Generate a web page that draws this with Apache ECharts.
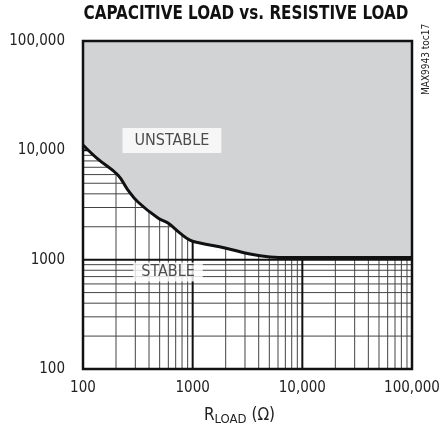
<!DOCTYPE html>
<html><head><meta charset="utf-8">
<script src="https://cdn.jsdelivr.net/npm/echarts@6/dist/echarts.min.js"></script>
<style>html,body{margin:0;padding:0;background:#fff}#c{width:442px;height:432px}</style>
</head><body><div id="c"></div>
<script>
const rLoad = [100, 137, 208, 257, 317, 483, 596, 766, 944, 1166, 1970, 3330, 5070, 7710, 10000, 100000];
const cLoad = [11200, 8300, 5940, 4330, 3370, 2400, 2160, 1750, 1510, 1420, 1280, 1125, 1060, 1045, 1045, 1045];
const xTickLabels = {100: '100', 1000: '1000', 10000: '10,000', 100000: '100,000'};
const yTickLabels = {100: '100', 1000: '1000', 10000: '10,000', 100000: '100,000'};
const minorMult = [2, 3, 4, 5, 6, 7, 8, 9];
const decades = [100, 1000, 10000];
const majorGrid = [1000, 10000];
const annotations = [
  {name: 'UNSTABLE', x: 647, y: 12300},
  {name: 'STABLE', x: 596, y: 771}
];

const FONT = '"Liberation Sans Narrow","DejaVu Sans Condensed","Liberation Sans",sans-serif';

const gridData = [];
decades.forEach(d => minorMult.forEach(m => {
  gridData.push([d * m, 100, 0, 0]);
  gridData.push([100, d * m, 1, 0]);
}));
majorGrid.forEach(v => {
  gridData.push([v, 100, 0, 1]);
  gridData.push([100, v, 1, 1]);
});

const chart = echarts.init(document.getElementById('c'), null, {renderer: 'canvas'});
chart.setOption({
  animation: false,
  backgroundColor: '#fff',
  grid: {left: 83, top: 41, width: 329, height: 328, containLabel: false, outerBoundsMode: 'none',
         show: true, borderColor: '#111', borderWidth: 2.5, z: 10, backgroundColor: 'transparent'},
  xAxis: {
    type: 'log', logBase: 10, min: 100, max: 100000,
    name: '{a|R}{s|LOAD}{a| (Ω)}', nameLocation: 'middle', nameGap: 37,
    nameTextStyle: {padding: [0, 16, 0, 0], rich: {
      a: {fontFamily: FONT, fontSize: 17, color: '#222', lineHeight: 20},
      s: {fontFamily: FONT, fontSize: 13, color: '#222', padding: [7, 0, 0, 0], lineHeight: 20}
    }},
    axisLine: {show: false}, axisTick: {show: false}, splitLine: {show: false},
    axisLabel: {margin: 12, fontFamily: FONT, fontSize: 15, color: '#222', formatter: v => xTickLabels[Math.round(v)] || ''}
  },
  yAxis: {
    type: 'log', logBase: 10, min: 100, max: 100000,
    name: '{a|C}{s|LOAD}{a| (pF)}', nameLocation: 'middle', nameGap: 51, nameRotate: 90,
    nameTextStyle: {rich: {
      a: {fontFamily: FONT, fontSize: 17, color: '#222', lineHeight: 20},
      s: {fontFamily: FONT, fontSize: 13, color: '#222', padding: [7, 0, 0, 0], lineHeight: 20}
    }},
    axisLine: {show: false}, axisTick: {show: false}, splitLine: {show: false},
    axisLabel: {margin: 18, fontFamily: FONT, fontSize: 15, color: '#222', formatter: v => yTickLabels[Math.round(v)] || ''}
  },
  graphic: [
    {type: 'text', x: 246, y: 4, scaleX: 0.845, style: {text: 'CAPACITIVE LOAD vs. RESISTIVE LOAD', font: 'bold 20px ' + FONT, fill: '#111', align: 'center'}},
    {type: 'text', x: 421, y: 95, rotation: Math.PI / 2, style: {text: 'MAX9943 toc17', font: '10px ' + FONT, fill: '#222'}}
  ],
  series: [
    {
      type: 'custom', z: 1, silent: true,
      data: gridData,
      renderItem: (params, api) => {
        const cs = params.coordSys;
        const vertical = api.value(2) === 0;
        const major = api.value(3) === 1;
        let shape;
        if (vertical) {
          const p = api.coord([api.value(0), 1000]);
          shape = {x1: p[0], y1: cs.y, x2: p[0], y2: cs.y + cs.height};
        } else {
          const p = api.coord([1000, api.value(1)]);
          shape = {x1: cs.x, y1: p[1], x2: cs.x + cs.width, y2: p[1]};
        }
        return {type: 'line', shape, style: {stroke: major ? '#111' : '#444', lineWidth: major ? 2 : 1}};
      }
    },
    {
      type: 'line', z: 5, smooth: 0.4, symbol: 'none',
      data: rLoad.map((x, i) => [x, cLoad[i]]),
      lineStyle: {color: '#111', width: 3},
      areaStyle: {origin: 'end', color: '#d1d3d4', opacity: 1}
    },
    {
      type: 'scatter', z: 8, symbolSize: 0,
      data: [
        {name: annotations[0].name, value: [annotations[0].x, annotations[0].y], label: {padding: [5, 12, 4, 12]}},
        {name: annotations[1].name, value: [annotations[1].x, annotations[1].y], label: {padding: [2, 8, 1, 8], fontSize: 16}}
      ],
      label: {
        show: true, position: 'inside', formatter: p => p.name,
        fontFamily: FONT, fontSize: 16, color: '#222', backgroundColor: '#fff'
      },
      itemStyle: {color: 'transparent'}
    }
  ]
});
</script></body></html>
